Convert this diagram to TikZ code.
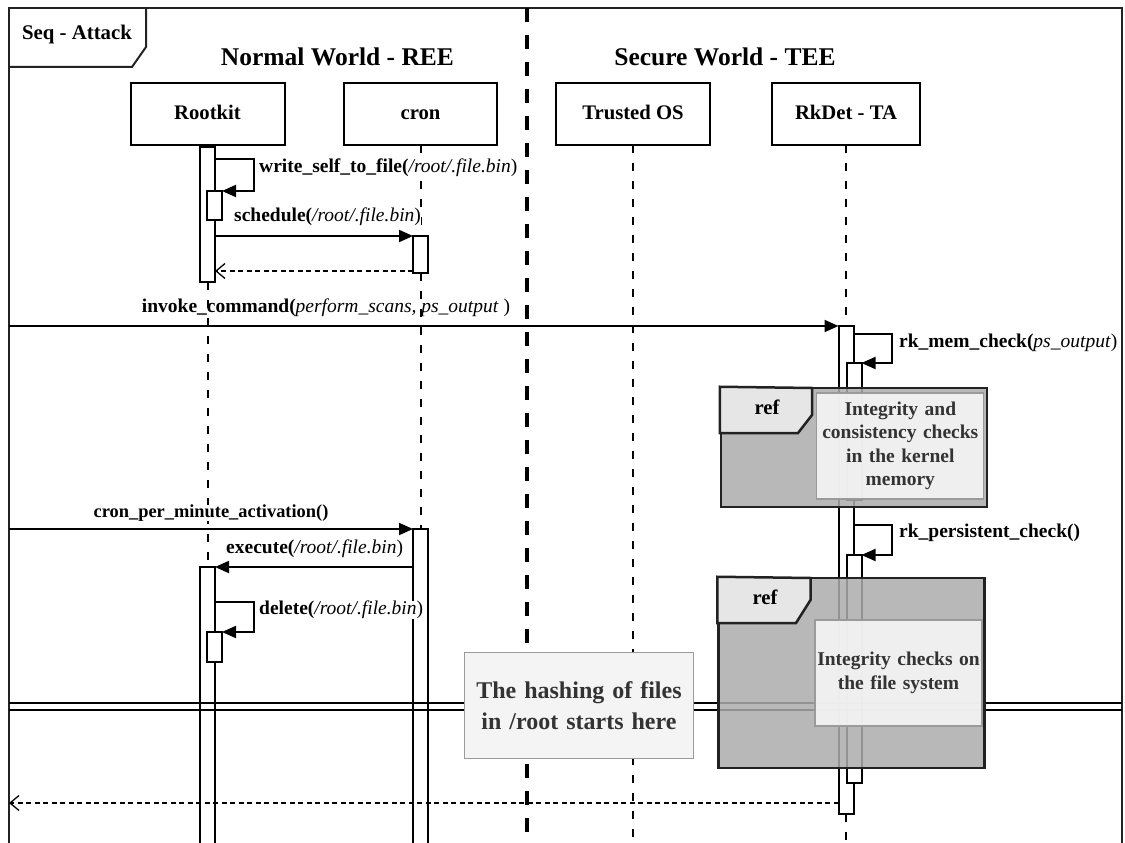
\documentclass[tikz,border=0pt]{standalone}
\usepackage{fontspec}
\setmainfont{Liberation Serif}
\usetikzlibrary{arrows.meta}

\definecolor{refgray}{HTML}{ACACAC}
\definecolor{tabgray}{HTML}{E6E6E6}
\definecolor{notefill}{HTML}{F4F4F4}
\definecolor{noteline}{HTML}{9A9A9A}
\definecolor{notetext}{HTML}{333333}
\definecolor{inkdark}{HTML}{222222}

\newcommand{\fsz}[1]{\fontsize{#1}{1.2\dimexpr#1pt\relax}\selectfont}
\newcommand{\callname}[2]{\textbf{#1(}\textit{#2})}

\begin{document}
\begin{tikzpicture}[x=1pt,y=-1pt,
  framepath/.style={line width=2pt, draw=inkdark},
  headline/.style={font=\fsz{25.5}\bfseries},
  lifebox/.style={draw, line width=2pt, fill=white, minimum height=62pt,
    inner sep=0pt, outer sep=0pt, text height=14pt, text depth=4pt,
    font=\fsz{20.7}\bfseries},
  lifeln/.style={line width=2pt, dash pattern=on 8pt off 10pt},
  divider/.style={line width=3.5pt, dash pattern=on 14pt off 13pt},
  actbar/.style={draw, line width=2pt, fill=white, minimum width=15pt,
    inner sep=0pt, outer sep=0pt},
  msg/.style={line width=2pt, -{Triangle[length=14pt,width=12pt]}},
  reply/.style={line width=1.3pt, dash pattern=on 5pt off 3.5pt,
    -{Straight Barb[length=9pt,width=15pt,line width=1.3pt]}},
  msglabel/.style={font=\fsz{19.5}, inner sep=0pt, fill=white},
  refbox/.style={draw=inkdark, line width=2.5pt, fill=refgray,
    fill opacity=0.85, inner sep=0pt},
  reftab/.style={draw=inkdark, line width=2.5pt, fill=tabgray},
  notebox/.style={draw=noteline, line width=1.3pt, fill=notefill,
    fill opacity=0.92, text opacity=1, text=notetext, align=center,
    inner sep=0pt, font=\fsz{19.5}\bfseries},
  sepline/.style={line width=2pt}
]
\useasboundingbox (0,0) rectangle (1125,843);

% ---------- outer frame and its name tab ----------
\draw[framepath] (9,846) -- (9,8) -- (1122,8) -- (1122,846);
\draw[framepath] (146,8) -- (146,47) -- (132,67) -- (9,67);
\node[font=\fsz{20.8}\bfseries] (seqname) at (77,34) {Seq - Attack};

% ---------- world headings and the divider ----------
\node[headline] (ree) at (337.5,57) {Normal World - REE};
\node[headline] (tee) at (725,57) {Secure World - TEE};
\coordinate (divtop) at (527,8);
\coordinate (divbot) at (527,846);
\draw[divider] (divtop) -- (divbot);

% ---------- lifeline heads ----------
\node[lifebox, minimum width=154pt] (rootkit) at (207.5,114) {Rootkit};
\node[lifebox, minimum width=153pt] (cron)    at (420.5,114) {cron};
\node[lifebox, minimum width=154pt] (tos)     at (633,114)   {Trusted OS};
\node[lifebox, minimum width=148pt] (rkdet)   at (846,114)   {RkDet - TA};

% label crossed by the lifelines
\node[msglabel, fill=none] (linvoke) at (326,308)
  {\textbf{invoke\_command(}\textit{perform\_scans, ps\_output })};

% ---------- activation bars ----------
\node[actbar, minimum height=135pt] (rkA)  at (207.5,214.5) {};
\node[actbar, minimum height=29pt]  (rkA2) at (214.5,205.5) {};
\node[actbar, minimum height=280pt] (rkB)  at (207.5,707)   {};
\node[actbar, minimum height=30pt]  (rkB2) at (214.5,647)   {};
\node[actbar, minimum height=37pt]  (crA)  at (420.5,254.5) {};
\node[actbar, minimum height=320pt] (crB)  at (420.5,689)   {};
\node[actbar, minimum height=488pt] (taA)  at (846,570)     {};
\node[actbar, minimum height=137pt] (taA1) at (854,431.5)   {};
\node[actbar, minimum height=228pt] (taA2) at (854,669)     {};

% ---------- lifelines ----------
\coordinate (tosend) at (633,846);
\coordinate (taend)  at (846,846);
\draw[lifeln] (rootkit.south) -- (rkA.north);
\draw[lifeln] (rkA.south) -- (rkB.north);
\draw[lifeln] (cron.south) -- (crA.north);
\draw[lifeln] (crA.south) -- (crB.north);
\draw[lifeln] (tos.south) -- (tosend);
\draw[lifeln] (rkdet.south) -- (taA.north);
\draw[lifeln] (taA.south) -- (taend);

% ---------- messages ----------
% self call: write_self_to_file
\draw[msg] (rkA.east |- 0,159) -- (254,159) -- (254,191) -- (rkA2.north east);
\node[msglabel, anchor=west] (lwrite) at (259,168)
  {\callname{write\_self\_to\_file}{/root/.file.bin}};

% schedule and its reply
\draw[msg] (rkA.east |- crA.north west) -- (crA.north west);
\node[msglabel, anchor=west] (lsched) at (234,217)
  {\callname{schedule}{/root/.file.bin}};
\draw[reply] (crA.west |- 0,271) -- (rkA.east |- 0,271);

% invoke_command from outside the frame
\coordinate (gatein) at (9,326);
\draw[msg] (gatein) -- (taA.north west);

% rk_mem_check self call
\draw[msg] (taA.east |- 0,334) -- (892,334) -- (892,363) -- (taA1.north east);
\node[msglabel, anchor=west] (lmem) at (899,343)
  {\callname{rk\_mem\_check}{ps\_output}};

% cron activation
\coordinate (gatecron) at (9,529);
\draw[msg] (gatecron) -- (crB.north west);
\node[msglabel, font=\fsz{18.4}] (lcron) at (211,513)
  {\textbf{cron\_per\_minute\_activation()}};

% execute
\draw[msg] (crB.west |- rkB.north east) -- (rkB.north east);
\node[msglabel, anchor=west] (lexec) at (226,549)
  {\callname{execute}{/root/.file.bin}};

% delete self call
\draw[msg] (rkB.east |- 0,602) -- (254,602) -- (254,632) -- (rkB2.north east);
\node[msglabel, anchor=west] (ldel) at (259,610)
  {\callname{delete}{/root/.file.bin}};

% rk_persistent_check self call
\draw[msg] (taA.east |- 0,525) -- (892,525) -- (892,555) -- (taA2.north east);
\node[msglabel, anchor=west] (lpers) at (899,533)
  {\textbf{rk\_persistent\_check()}};

% final reply leaving the frame
\coordinate (gateout) at (9,803);
\draw[reply] (taA.west |- gateout) -- (gateout);

% ---------- time break (double line) ----------
\coordinate (brkL1) at (9,702.5);
\coordinate (brkR1) at (1122,702.5);
\coordinate (brkL2) at (9,709.5);
\coordinate (brkR2) at (1122,709.5);
\draw[sepline] (brkL1) -- (brkR1);
\draw[sepline] (brkL2) -- (brkR2);

% ---------- interaction uses ----------
\node[refbox, minimum width=266pt, minimum height=119pt] (ref1) at (854,447.5) {};
\draw[reftab] (ref1.north west) -- (812,388) -- (812,415) -- (798,433)
  -- (ref1.west |- 0,433) -- cycle;
\node[font=\fsz{20.7}\bfseries] (ref1tag) at (767,407) {ref};
\node[notebox, minimum width=167pt, minimum height=106pt, text width=165pt]
  (ref1note) at (900.3,446)
  {Integrity and\\consistency checks\\in the kernel\\memory};

\node[refbox, minimum width=266pt, minimum height=190pt] (ref2) at (851.5,673) {};
\draw[reftab] (ref2.north west) -- (810.5,578) -- (810.5,600) -- (796,623)
  -- (ref2.west |- 0,623) -- cycle;
\node[font=\fsz{20.7}\bfseries] (ref2tag) at (765,597) {ref};
\node[notebox, minimum width=167pt, minimum height=106pt, text width=165pt]
  (ref2note) at (898.5,673)
  {Integrity checks on\\the file system};

% ---------- note on the break ----------
\node[notebox, fill opacity=1, minimum width=229pt, minimum height=106pt,
  text width=225pt, font=\fontsize{24}{31}\selectfont\bfseries]
  (hashnote) at (579,705.5) {The hashing of files\\in /root starts here};
\end{tikzpicture}
\end{document}
